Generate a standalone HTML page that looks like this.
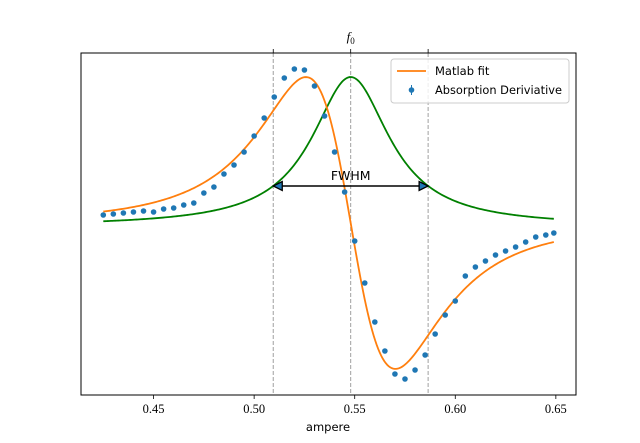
<!DOCTYPE html>
<html><head><meta charset="utf-8"><style>
html,body{margin:0;padding:0;background:#fff;}
svg{display:block;}
</style></head><body>
<svg id="chart" width="640" height="443" xmlns="http://www.w3.org/2000/svg"></svg>
<script>
const dotX = [0.425,0.430,0.435,0.440,0.445,0.450,0.455,0.460,0.465,0.470,0.475,0.480,0.485,0.490,0.495,0.500,0.505,0.510,0.515,0.520,0.525,0.530,0.535,0.540,0.545,0.550,0.555,0.560,0.565,0.570,0.575,0.580,0.585,0.590,0.595,0.600,0.605,0.610,0.615,0.620,0.625,0.630,0.635,0.640,0.645,0.649];
const dotY = [1.80,1.81,1.82,1.83,1.84,1.83,1.86,1.87,1.90,1.92,2.02,2.08,2.21,2.30,2.43,2.59,2.77,2.98,3.17,3.26,3.25,3.09,2.79,2.43,2.03,1.54,1.12,0.73,0.44,0.21,0.16,0.25,0.40,0.61,0.80,0.94,1.19,1.28,1.34,1.40,1.44,1.48,1.53,1.58,1.60,1.62];
const xTicks = [0.45,0.50,0.55,0.60,0.65];
const xTickLabels = ["0.45","0.50","0.55","0.60","0.65"];
const fitParams = [0.548, 0.0385, 1.72, 0.0865]; // x0, gamma, offset, K
const peakParams = [0.548, 0.0235, 1.685, 1.495]; // x0, gamma, offset, amplitude
const fwhmX = [0.5095, 0.5865];
const f0X = [0.548];

const svg = document.getElementById('chart');
const NS = 'http://www.w3.org/2000/svg';
const L=81, R=576, T=53, B=395;
const xMin=0.41392, xMax=0.66002, yMin=0, yMax=3.42;
const xs = v => L + (v-xMin)/(xMax-xMin)*(R-L);
const ys = v => B - (v-yMin)/(yMax-yMin)*(B-T);
function el(tag, attrs, parent){const e=document.createElementNS(NS,tag);for(const k in attrs)e.setAttribute(k,attrs[k]);(parent||svg).appendChild(e);return e;}

function fitF(x){const [x0,g,c,K]=fitParams;const d=x-x0;return c - K*2*d*g*g/Math.pow(g*g+d*d,2);}
function peakF(x){const [x0,g,c,A]=peakParams;const d=x-x0;return c + A*g*g/(g*g+d*d);}

const vl=[fwhmX[0],f0X[0],fwhmX[1]];
vl.forEach((v,i)=>{
  const l=el('line',{x1:xs(v),x2:xs(v),y1:T,y2:B,stroke:'#a0a0a0','stroke-width':1,'stroke-dasharray':'4,2'});
  
  
  const t=el('line',{x1:xs(v),x2:xs(v),y1:T,y2:T-4,stroke:'#000','stroke-width':0.8});
  
  
});
const f0=el('text',{x:xs(f0X[0]),y:41,'text-anchor':'middle','font-family':'Liberation Serif, serif','font-style':'italic','font-size':13});
f0.textContent='f';
const sub=el('tspan',{'font-size':9,dy:3,'font-style':'normal'},f0);sub.textContent='0';



let p='';
for(let i=0;i<=300;i++){const x=0.425+(0.649-0.425)*i/300;p+=(i?'L':'M')+xs(x).toFixed(2)+','+ys(peakF(x)).toFixed(2);}
const gl=el('path',{d:p,fill:'none',stroke:'#008000','stroke-width':1.8});



p='';
for(let i=0;i<=300;i++){const x=0.425+(0.649-0.425)*i/300;p+=(i?'L':'M')+xs(x).toFixed(2)+','+ys(fitF(x)).toFixed(2);}
const ol=el('path',{d:p,fill:'none',stroke:'#ff7f0e','stroke-width':1.8});



dotX.forEach((x,i)=>{
  const c=el('circle',{cx:xs(x),cy:ys(dotY[i]),r:2.8,fill:'#1f77b4'});
  
  
});

const ay=186, ax1=xs(fwhmX[0]), ax2=xs(fwhmX[1]);
const al=el('line',{x1:ax1+8,x2:ax2-8,y1:ay,y2:ay,stroke:'#000','stroke-width':1.6});


const h1=el('path',{d:`M${ax1},${ay} L${ax1+9},${ay-4.5} L${ax1+9},${ay+4.5} Z`,fill:'#1f77b4',stroke:'#000','stroke-width':1.3});


const h2=el('path',{d:`M${ax2},${ay} L${ax2-9},${ay-4.5} L${ax2-9},${ay+4.5} Z`,fill:'#1f77b4',stroke:'#000','stroke-width':1.3});


const ft=el('text',{x:(ax1+ax2)/2,y:180,'text-anchor':'middle','font-family':'DejaVu Sans, sans-serif','font-size':12.5});
ft.textContent='FWHM';



const fr=el('rect',{x:L,y:T,width:R-L,height:B-T,fill:'none',stroke:'#000','stroke-width':1});



xTicks.forEach((v,i)=>{
  const t=el('line',{x1:xs(v),x2:xs(v),y1:B,y2:B+4,stroke:'#000','stroke-width':0.8});
  
  
  const tx=el('text',{x:xs(v),y:413,'text-anchor':'middle','font-family':'Liberation Serif, serif','font-size':12.5});
  tx.textContent=xTickLabels[i];
  
  
});
const xt=el('text',{x:328,y:431,'text-anchor':'middle','font-family':'DejaVu Sans, sans-serif','font-size':11.5});
xt.textContent='ampere';



const lg=el('g',{});


el('rect',{x:391,y:59,width:178,height:44,rx:3,fill:'#fff','fill-opacity':0.8,stroke:'#ccc','stroke-width':1},lg);
const le1=el('g',{},lg);


el('line',{x1:397,x2:426,y1:71,y2:71,stroke:'#ff7f0e','stroke-width':1.8},le1);
const t1=el('text',{x:435,y:75,'font-family':'DejaVu Sans, sans-serif','font-size':11.5},le1);t1.textContent='Matlab fit';
const le2=el('g',{},lg);


el('line',{x1:411.5,x2:411.5,y1:85,y2:95,stroke:'#1f77b4','stroke-width':1},le2);
el('circle',{cx:411.5,cy:90,r:2.8,fill:'#1f77b4'},le2);
const t2=el('text',{x:435,y:94,'font-family':'DejaVu Sans, sans-serif','font-size':11.5,textLength:127,lengthAdjust:'spacingAndGlyphs'},le2);t2.textContent='Absorption Deriviative';
</script>
</body></html>
